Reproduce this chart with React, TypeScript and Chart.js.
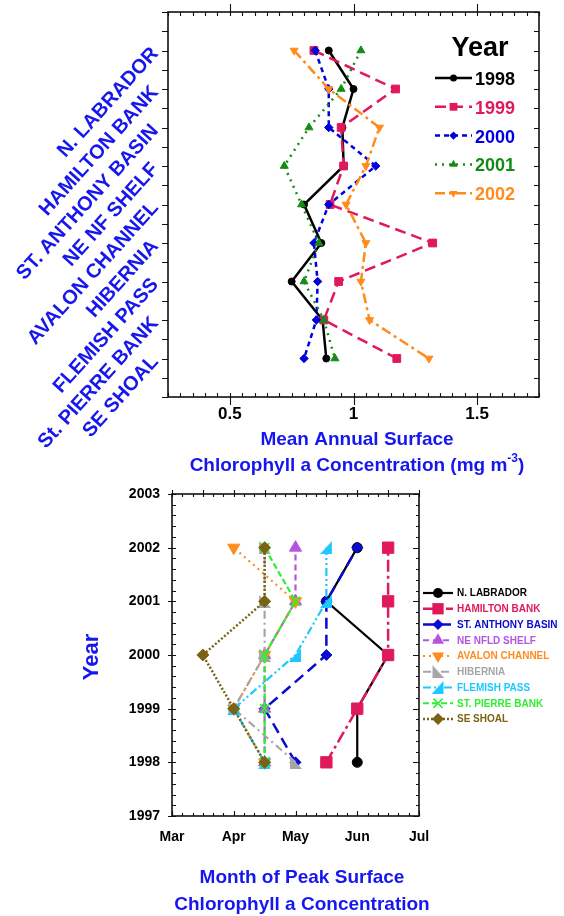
import React, { useEffect, useRef } from "react";
import { Chart, registerables } from "chart.js";

Chart.register(...registerables);

const FONT = "'Liberation Sans', Arial, Helvetica, sans-serif";
const BLUE = "#1616ee";

// ---------------- Top panel data ----------------
const topRegions = [
  "N. LABRADOR",
  "HAMILTON BANK",
  "ST. ANTHONY BASIN",
  "NE NF SHELF",
  "AVALON CHANNEL",
  "HIBERNIA",
  "FLEMISH PASS",
  "St. PIERRE BANK",
  "SE SHOAL",
];
const topYears = ["1998", "1999", "2000", "2001", "2002"];
const chl1998 = [0.9, 1.0, 0.955, 0.96, 0.8, 0.87, 0.75, 0.875, 0.89];
const chl1999 = [0.84, 1.17, 0.95, 0.96, 0.905, 1.32, 0.94, 0.88, 1.175];
const chl2000 = [0.845, 0.9, 0.9, 1.09, 0.9, 0.84, 0.855, 0.85, 0.8];
const chl2001 = [1.03, 0.95, 0.82, 0.72, 0.79, 0.86, 0.8, 0.88, 0.925];
const chl2002 = [0.76, 0.9, 1.105, 1.05, 0.97, 1.05, 1.03, 1.065, 1.305];
const topSeries = [chl1998, chl1999, chl2000, chl2001, chl2002];
const topTickValues = [0.5, 1, 1.5];

// ---------------- Bottom panel data ----------------
const peakRegions = [
  "N. LABRADOR",
  "HAMILTON BANK",
  "ST. ANTHONY BASIN",
  "NE NFLD SHELF",
  "AVALON CHANNEL",
  "HIBERNIA",
  "FLEMISH PASS",
  "ST. PIERRE BANK",
  "SE SHOAL",
];
const peakYears = [1998, 1999, 2000, 2001, 2002];
// month of peak (Mar = 3, Apr = 4, ...)
const peakNLabrador = [6.0, 6.0, 6.5, 5.5, 6.0];
const peakHamilton = [5.5, 6.0, 6.5, 6.5, 6.5];
const peakStAnthony = [5.0, 4.5, 5.5, 5.5, 6.0];
const peakNeNfld = [4.5, 4.5, 4.5, 5.0, 5.0];
const peakAvalon = [4.5, 4.0, 4.5, 5.0, 4.0];
const peakHibernia = [5.0, 4.0, 4.5, 4.5, 4.5];
const peakFlemish = [4.5, 4.0, 5.0, 5.5, 5.5];
const peakStPierre = [4.5, 4.5, 4.5, 5.0, 4.5];
const peakSeShoal = [4.5, 4.0, 3.5, 4.5, 4.5];
const peakSeries = [
  peakNLabrador,
  peakHamilton,
  peakStAnthony,
  peakNeNfld,
  peakAvalon,
  peakHibernia,
  peakFlemish,
  peakStPierre,
  peakSeShoal,
];
const monthLabels = ["Mar", "Apr", "May", "Jun", "Jul"];
const monthValues = [3, 4, 5, 6, 7];
const yearTickValues = [1997, 1998, 1999, 2000, 2001, 2002, 2003];

// ---------------- helpers ----------------
function seq(a: number, b: number, step: number) {
  const out: number[] = [];
  const n = Math.round((b - a) / step);
  for (let i = 0; i <= n; i++) out.push(a + i * step);
  return out;
}

function rightTri(color: string, leftSide: boolean) {
  const c = document.createElement("canvas");
  c.width = 13;
  c.height = 13;
  const g = c.getContext("2d")!;
  g.fillStyle = color;
  g.beginPath();
  if (leftSide) {
    g.moveTo(1, 0);
    g.lineTo(1, 13);
    g.lineTo(13, 13);
  } else {
    g.moveTo(12, 0);
    g.lineTo(12, 13);
    g.lineTo(0, 13);
  }
  g.closePath();
  g.fill();
  return c;
}

function drawMarker(ctx: CanvasRenderingContext2D, style: any, x: number, y: number, r: number, color: string, rotation: number) {
  ctx.save();
  ctx.translate(x, y);
  ctx.rotate((rotation * Math.PI) / 180);
  ctx.setLineDash([]);
  ctx.fillStyle = color;
  ctx.strokeStyle = color;
  if (typeof style !== "string") {
    ctx.drawImage(style, -style.width / 2, -style.height / 2);
    ctx.restore();
    return;
  }
  ctx.beginPath();
  if (style === "circle") {
    ctx.arc(0, 0, r, 0, Math.PI * 2);
    ctx.fill();
  } else if (style === "rect") {
    const s = r * Math.SQRT1_2;
    ctx.fillRect(-s, -s, 2 * s, 2 * s);
  } else if (style === "rectRot") {
    ctx.moveTo(0, -r);
    ctx.lineTo(r, 0);
    ctx.lineTo(0, r);
    ctx.lineTo(-r, 0);
    ctx.closePath();
    ctx.fill();
  } else if (style === "triangle") {
    ctx.moveTo(0, -r);
    ctx.lineTo(0.866 * r, 0.5 * r);
    ctx.lineTo(-0.866 * r, 0.5 * r);
    ctx.closePath();
    ctx.fill();
  } else if (style === "crossRot") {
    ctx.lineWidth = 1.5;
    const s = r * 0.7071;
    ctx.moveTo(-s, -s);
    ctx.lineTo(s, s);
    ctx.moveTo(-s, s);
    ctx.lineTo(s, -s);
    ctx.stroke();
  }
  ctx.restore();
}

type TickSpec = { side: "top" | "bottom" | "left" | "right"; values: number[]; len: number };

function framePlugin(specs: TickSpec[]) {
  return {
    id: "frameTicks",
    afterDraw(chart: any) {
      const { ctx, chartArea: a, scales } = chart;
      const xs = scales.x;
      const ys = scales.y;
      ctx.save();
      ctx.strokeStyle = "#111";
      ctx.lineWidth = 1.1;
      ctx.setLineDash([]);
      for (const t of specs) {
        ctx.beginPath();
        for (const v of t.values) {
          if (t.side === "bottom" || t.side === "top") {
            const px = Math.round(xs.getPixelForValue(v)) + 0.5;
            const y0 = t.side === "bottom" ? a.bottom : a.top;
            const dir = t.side === "bottom" ? 1 : -1;
            ctx.moveTo(px, y0);
            ctx.lineTo(px, y0 + dir * t.len);
          } else {
            const py = Math.round(ys.getPixelForValue(v)) + 0.5;
            const x0 = t.side === "left" ? a.left : a.right;
            const dir = t.side === "left" ? -1 : 1;
            ctx.moveTo(x0, py);
            ctx.lineTo(x0 + dir * t.len, py);
          }
        }
        ctx.stroke();
      }
      ctx.lineWidth = 1.6;
      ctx.strokeRect(a.left, a.top, a.right - a.left, a.bottom - a.top);
      ctx.restore();
    },
  };
}

function legendLine(ctx: CanvasRenderingContext2D, ds: any, x0: number, x1: number, y: number) {
  ctx.save();
  ctx.strokeStyle = ds.borderColor;
  ctx.lineWidth = ds.borderWidth;
  ctx.setLineDash(ds.borderDash || []);
  ctx.beginPath();
  ctx.moveTo(x0, y);
  ctx.lineTo(x1, y);
  ctx.stroke();
  ctx.restore();
  drawMarker(ctx, ds.pointStyle, (x0 + x1) / 2, y, ds.pointRadius, ds.borderColor, ds.pointRotation || 0);
}

// ---------------- styles ----------------
const topStyles = [
  { color: "#000000", point: "circle", radius: 3.5, rot: 0, dash: [] as number[] },
  { color: "#e0185c", point: "rect", radius: 5.5, rot: 0, dash: [11, 6] },
  { color: "#0000dd", point: "rectRot", radius: 4.2, rot: 0, dash: [5, 4] },
  { color: "#148c14", point: "triangle", radius: 4.6, rot: 0, dash: [2, 5] },
  { color: "#ff8c1a", point: "triangle", radius: 4.6, rot: 180, dash: [10, 4, 3, 4] },
];

const peakColors = ["#000000", "#e01a5a", "#0a0ad0", "#b455e0", "#ff8c1e", "#a6a6a6", "#1ec8ff", "#30ee30", "#7a6414"];
const peakDashes = [[], [12, 4, 3, 4], [11, 6], [6, 4], [2, 4], [8, 4, 2, 4], [8, 3, 2, 3, 2, 3], [6, 3], [2, 2]];
const peakWidths = [2.2, 2.5, 2.5, 2.2, 2.2, 2.2, 2.2, 2.2, 2.5];

// ---------------- Top chart ----------------
function TopChart() {
  const ref = useRef<HTMLCanvasElement>(null);
  useEffect(() => {
    const datasets = topSeries.map((vals, i) => {
      const st = topStyles[i];
      return {
        label: topYears[i],
        data: vals.map((v, j) => ({ x: v, y: j + 1 })),
        borderColor: st.color,
        backgroundColor: st.color,
        pointBackgroundColor: st.color,
        pointBorderColor: st.color,
        pointStyle: st.point,
        pointRadius: st.radius,
        pointRotation: st.rot,
        pointBorderWidth: 1,
        borderWidth: 2.5,
        borderDash: st.dash,
        showLine: true,
        tension: 0,
        order: topSeries.length - i,
      };
    });

    const legendPlugin = {
      id: "topLegend",
      afterDraw(chart: any) {
        const ctx = chart.ctx as CanvasRenderingContext2D;
        ctx.save();
        ctx.fillStyle = "#000";
        ctx.font = `bold 27px ${FONT}`;
        ctx.textAlign = "center";
        ctx.textBaseline = "alphabetic";
        ctx.fillText("Year", 480, 56);
        chart.data.datasets.forEach((ds: any, i: number) => {
          const y = 78 + i * 28.8;
          legendLine(ctx, ds, 435, 472, y);
          ctx.font = `bold 18px ${FONT}`;
          ctx.fillStyle = ds.borderColor;
          ctx.textAlign = "left";
          ctx.textBaseline = "middle";
          ctx.fillText(ds.label, 475, y + 2);
        });
        ctx.restore();
      },
    };

    const titlePlugin = {
      id: "topTitles",
      afterDraw(chart: any) {
        const ctx = chart.ctx as CanvasRenderingContext2D;
        const cx = 357;
        const main = `bold 19px ${FONT}`;
        const small = `bold 12px ${FONT}`;
        ctx.save();
        ctx.fillStyle = BLUE;
        ctx.font = main;
        ctx.textAlign = "center";
        ctx.textBaseline = "alphabetic";
        ctx.fillText("Mean Annual Surface", cx, 445);
        const a = "Chlorophyll a Concentration (mg m";
        const s = "-3";
        const b = ")";
        const wa = ctx.measureText(a).width;
        const wb = ctx.measureText(b).width;
        ctx.font = small;
        const ws = ctx.measureText(s).width;
        let x = cx - (wa + ws + wb) / 2;
        ctx.textAlign = "left";
        ctx.font = main;
        ctx.fillText(a, x, 471);
        x += wa;
        ctx.font = small;
        ctx.fillText(s, x, 462);
        x += ws;
        ctx.font = main;
        ctx.fillText(b, x, 471);
        ctx.restore();
      },
    };

    const chart = new Chart(ref.current!, {
      type: "scatter",
      data: { datasets: datasets as any },
      options: {
        animation: false,
        responsive: false,
        events: [],
        layout: { padding: { left: 0, top: 12, right: 25, bottom: 0 } },
        plugins: { legend: { display: false }, tooltip: { enabled: false } },
        scales: {
          x: {
            type: "linear",
            min: 0.25,
            max: 1.75,
            bounds: "data",
            grid: { display: false, drawTicks: false },
            border: { display: false },
            afterBuildTicks: (s: any) => {
              s.ticks = topTickValues.map((v) => ({ value: v }));
            },
            afterFit: (s: any) => {
              s.height = 83;
              s.paddingLeft = 0;
              s.paddingRight = 0;
            },
            ticks: {
              padding: 7,
              color: "#000",
              maxRotation: 0,
              autoSkip: false,
              font: { family: FONT, size: 17, weight: "bold" },
              callback: (v: any) => String(v),
            },
          },
          y: {
            type: "linear",
            min: 0,
            max: 10,
            reverse: true,
            bounds: "data",
            grid: { display: false, drawTicks: false },
            border: { display: false },
            afterBuildTicks: (s: any) => {
              s.ticks = topRegions.map((_, i) => ({ value: i + 1 }));
            },
            afterFit: (s: any) => {
              s.width = 168;
              s.paddingTop = 0;
              s.paddingBottom = 0;
            },
            ticks: {
              padding: 13,
              color: BLUE,
              minRotation: 48,
              maxRotation: 48,
              autoSkip: false,
              font: { family: FONT, size: 20, weight: "bold" },
              callback: (v: any) => topRegions[Math.round(v) - 1] ?? "",
            },
          },
        },
      } as any,
      plugins: [
        framePlugin([
          { side: "bottom", values: topTickValues, len: 8 },
          { side: "bottom", values: seq(0.25, 1.75, 0.05), len: -4 },
          { side: "top", values: topTickValues, len: 8 },
          { side: "top", values: seq(0.25, 1.75, 0.05), len: -4 },
          { side: "left", values: seq(0, 10, 0.5), len: 6 },
          { side: "right", values: seq(0, 10, 0.5), len: -5 },
        ]),
        legendPlugin,
        titlePlugin,
      ],
    });
    return () => chart.destroy();
  }, []);
  return (
    <canvas
      ref={ref}
      width={564}
      height={480}
      style={{ position: "absolute", left: 0, top: 0, width: 564, height: 480 }}
    />
  );
}

// ---------------- Bottom chart ----------------
function PeakChart() {
  const ref = useRef<HTMLCanvasElement>(null);
  useEffect(() => {
    const pointStyles: any[] = [
      "circle",
      "rect",
      "rectRot",
      "triangle",
      "triangle",
      rightTri(peakColors[5], true),
      rightTri(peakColors[6], false),
      "crossRot",
      "rectRot",
    ];
    const radii = [5, 8, 5.5, 7, 7, 6.5, 6.5, 6.5, 6];
    const rots = [0, 0, 0, 0, 180, 0, 0, 0, 0];
    const datasets = peakSeries.map((vals, i) => ({
      label: peakRegions[i],
      data: vals.map((m, j) => ({ x: m, y: peakYears[j] })),
      borderColor: peakColors[i],
      backgroundColor: peakColors[i],
      pointBackgroundColor: peakColors[i],
      pointBorderColor: peakColors[i],
      pointStyle: pointStyles[i],
      pointRadius: radii[i],
      pointRotation: rots[i],
      pointBorderWidth: i === 7 ? 1.6 : 1,
      borderWidth: peakWidths[i],
      borderDash: peakDashes[i],
      showLine: true,
      tension: 0,
      order: peakSeries.length - i,
    }));

    const legendPlugin = {
      id: "peakLegend",
      afterDraw(chart: any) {
        const ctx = chart.ctx as CanvasRenderingContext2D;
        ctx.save();
        chart.data.datasets.forEach((ds: any, i: number) => {
          const y = 113 + i * 15.75;
          legendLine(ctx, ds, 423, 453, y);
          ctx.font = `bold 10px ${FONT}`;
          ctx.fillStyle = ds.borderColor;
          ctx.textAlign = "left";
          ctx.textBaseline = "middle";
          ctx.fillText(ds.label, 457, y + 0.5);
        });
        ctx.restore();
      },
    };

    const titlePlugin = {
      id: "peakTitles",
      afterDraw(chart: any) {
        const ctx = chart.ctx as CanvasRenderingContext2D;
        ctx.save();
        ctx.fillStyle = BLUE;
        ctx.font = `bold 19px ${FONT}`;
        ctx.textAlign = "center";
        ctx.textBaseline = "alphabetic";
        ctx.fillText("Month of Peak Surface", 302, 403);
        ctx.fillText("Chlorophyll a Concentration", 302, 430);
        ctx.translate(92, 177);
        ctx.rotate(-Math.PI / 2);
        ctx.font = `bold 22px ${FONT}`;
        ctx.textBaseline = "middle";
        ctx.fillText("Year", 0, 0);
        ctx.restore();
      },
    };

    const chart = new Chart(ref.current!, {
      type: "scatter",
      data: { datasets: datasets as any },
      options: {
        animation: false,
        responsive: false,
        events: [],
        layout: { padding: { left: 0, top: 14, right: 145, bottom: 0 } },
        plugins: { legend: { display: false }, tooltip: { enabled: false } },
        scales: {
          x: {
            type: "linear",
            min: 3,
            max: 7,
            bounds: "data",
            grid: { display: false, drawTicks: false },
            border: { display: false },
            afterBuildTicks: (s: any) => {
              s.ticks = monthValues.map((v) => ({ value: v }));
            },
            afterFit: (s: any) => {
              s.height = 100;
              s.paddingLeft = 0;
              s.paddingRight = 0;
            },
            ticks: {
              padding: 13,
              color: "#000",
              maxRotation: 0,
              autoSkip: false,
              font: { family: FONT, size: 14, weight: "bold" },
              callback: (v: any) => monthLabels[monthValues.indexOf(Math.round(v))] ?? "",
            },
          },
          y: {
            type: "linear",
            min: 1997,
            max: 2003,
            bounds: "data",
            grid: { display: false, drawTicks: false },
            border: { display: false },
            afterBuildTicks: (s: any) => {
              s.ticks = yearTickValues.map((v) => ({ value: v }));
            },
            afterFit: (s: any) => {
              s.width = 172;
              s.paddingTop = 0;
              s.paddingBottom = 0;
            },
            ticks: {
              padding: 12,
              color: "#000",
              autoSkip: false,
              font: { family: FONT, size: 14, weight: "bold" },
              callback: (v: any) => String(Math.round(v)),
            },
          },
        },
      } as any,
      plugins: [
        framePlugin([
          { side: "left", values: yearTickValues, len: 4 },
          { side: "left", values: seq(1997, 2003, 0.2), len: -4 },
          { side: "right", values: yearTickValues, len: -6 },
          { side: "right", values: seq(1997, 2003, 0.2), len: -3 },
          { side: "bottom", values: monthValues, len: -5 },
          { side: "bottom", values: seq(3, 7, 1 / 6), len: -3 },
          { side: "top", values: seq(3, 7, 0.5), len: 4 },
          { side: "top", values: seq(3, 7, 1 / 6), len: -3 },
        ]),
        legendPlugin,
        titlePlugin,
      ],
    });
    return () => chart.destroy();
  }, []);
  return (
    <canvas
      ref={ref}
      width={564}
      height={436}
      style={{ position: "absolute", left: 0, top: 480, width: 564, height: 436 }}
    />
  );
}

export default function App() {
  useEffect(() => {
    document.body.style.margin = "0";
    document.body.style.background = "#fff";
  }, []);
  return (
    <div style={{ position: "relative", width: 564, height: 916, background: "#fff", overflow: "hidden" }}>
      <TopChart />
      <PeakChart />
    </div>
  );
}
